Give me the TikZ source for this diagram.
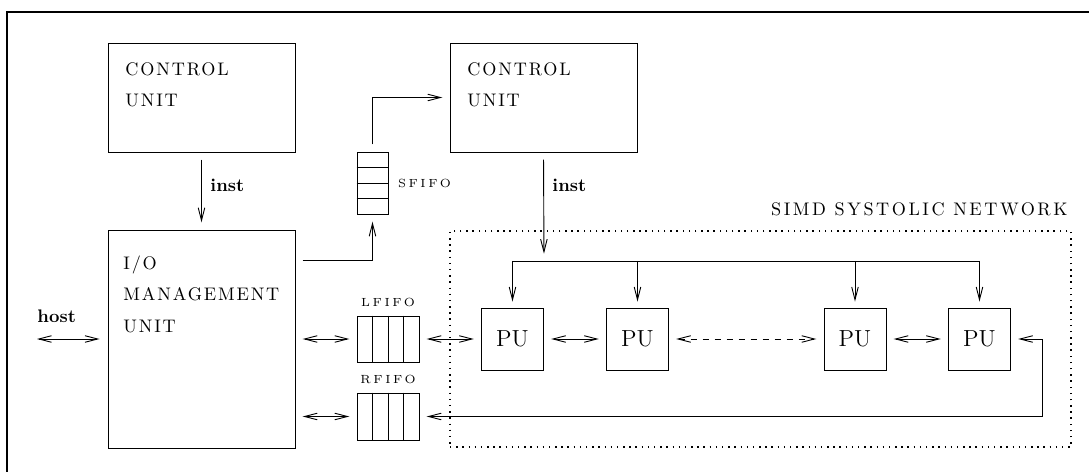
\documentclass[tikz,border=0pt]{standalone}
\usepackage{fontspec}
\newfontfamily\spacedfont{Latin Modern Roman}[LetterSpace=10]
\newfontfamily\widefont{Latin Modern Roman}[LetterSpace=14]
\newfontfamily\fifofont{Latin Modern Roman}[LetterSpace=22]
\usetikzlibrary{arrows.meta, positioning, calc}
\newcommand{\pxu}{0.55pt}

\begin{document}
\begin{tikzpicture}[
  x=0.55pt, y=-0.55pt, line width=0.5pt,
  unit/.style={rectangle, draw, inner sep=0pt, minimum width=187*\pxu},
  pu/.style={rectangle, draw, inner sep=0pt, minimum width=62*\pxu,
             minimum height=62*\pxu, font=\fontsize{12.8}{14}\selectfont},
  fifo/.style={rectangle, draw, inner sep=0pt},
  unittext/.style={anchor=north west, inner sep=0pt, align=left,
                   font=\spacedfont\fontsize{10}{17.4}\selectfont},
  fifolabel/.style={inner sep=0pt, font=\fifofont\fontsize{6.5}{8}\selectfont},
  signal/.style={inner sep=0pt, anchor=base west, font=\bfseries},
  arrow/.style={-{Straight Barb[length=7pt,width=3.6pt]}},
  biarrow/.style={{Straight Barb[length=7pt,width=3.6pt]}-{Straight Barb[length=7pt,width=3.6pt]}},
  gap/.style={shorten <=4pt, shorten >=4pt},
  network/.style={draw, dash pattern=on 0.8pt off 2.6pt, line width=0.8pt, inner sep=0pt,
                  minimum width=621*\pxu, minimum height=216*\pxu}
]
  \useasboundingbox (0,0) rectangle (1089,472);
  \draw[line width=0.7pt] (7,12) rectangle (1100,480);

  % control and I/O units
  \node[unit, minimum height=109*\pxu] (cu1) at (201.5,97.5) {};
  \node[unittext] (cu1txt) at (125,62) {CONTROL\\UNIT};
  \node[unit, minimum height=218*\pxu] (iom) at (201.5,339) {};
  \node[unittext] (iomtxt) at (123,255) {I/O\\MANAGEMENT\\UNIT};
  \node[unit, minimum height=109*\pxu] (cu2) at (543.5,97.5) {};
  \node[unittext] (cu2txt) at (467,62) {CONTROL\\UNIT};

  % fifos
  \node[fifo, minimum width=31*\pxu, minimum height=62*\pxu] (sfifo) at (372.5,183) {};
  \foreach \k in {1,2,3}
    \draw ($(sfifo.north west)!\k/4!(sfifo.south west)$) -- ($(sfifo.north east)!\k/4!(sfifo.south east)$);
  \node[fifolabel, right=5pt of sfifo] (sfifolbl) {SFIFO};

  \node[fifo, minimum width=62*\pxu, minimum height=46*\pxu] (lfifo) at (388,339) {};
  \node[fifo, minimum width=62*\pxu, minimum height=47*\pxu] (rfifo) at (388,416.5) {};
  \foreach \f in {lfifo,rfifo}
    \foreach \k in {1,2,3}
      \draw ($(\f.north west)!\k/4!(\f.north east)$) -- ($(\f.south west)!\k/4!(\f.south east)$);
  \node[fifolabel, above=4.5pt of lfifo] (lfifolbl) {LFIFO};
  \node[fifolabel, above=4.5pt of rfifo] (rfifolbl) {RFIFO};

  % systolic network
  \node[network] (net) at (760.5,339) {};
  \node[anchor=base east, inner sep=0pt, font=\widefont\fontsize{10}{12}\selectfont]
        (netlbl) at (1068,216) {SIMD SYSTOLIC NETWORK};
  \node[pu] (pu1) at (512.5,339) {PU};
  \node[pu] (pu2) at (637.5,339) {PU};
  \node[pu] (pu3) at (855,339) {PU};
  \node[pu] (pu4) at (979.5,339) {PU};

  % instructions
  \draw[arrow, gap] (cu1) -- (iom);
  \node[signal] (inst1) at (210,192) {inst};
  \coordinate (bus) at (544,261);
  \draw[arrow, gap] (cu2.south) -- (bus);
  \node[signal] (inst2) at (552,192) {inst};
  \draw (pu1.north |- bus) -- (pu4.north |- bus);
  \foreach \p in {pu1,pu2,pu3,pu4}
    \draw[arrow, shorten >=3.3pt] (\p.north |- bus) -- (\p.north);

  % data paths
  \draw[arrow, gap] ([yshift=-31*\pxu]iom.north east) -| (sfifo.south);
  \draw[arrow, gap] (sfifo.north) |- (cu2.west);
  \coordinate (host) at (37,339);
  \draw[biarrow, shorten >=4.4pt] (host) -- (iom.west);
  \node[signal] (hostlbl) at (37,323) {host};
  \draw[biarrow, gap] (iom.east) -- (lfifo.west);
  \draw[biarrow, gap] (iom.east |- rfifo.west) -- (rfifo.west);
  \draw[biarrow, gap] (lfifo) -- (pu1);
  \draw[biarrow, gap] (pu1) -- (pu2);
  \draw[biarrow, gap, dash pattern=on 3.3pt off 3.3pt] (pu2) -- (pu3);
  \draw[biarrow, gap] (pu3) -- (pu4);
  \draw[biarrow, gap] (pu4.east) -- ++(31,0) |- (rfifo.east);
\end{tikzpicture}
\end{document}
